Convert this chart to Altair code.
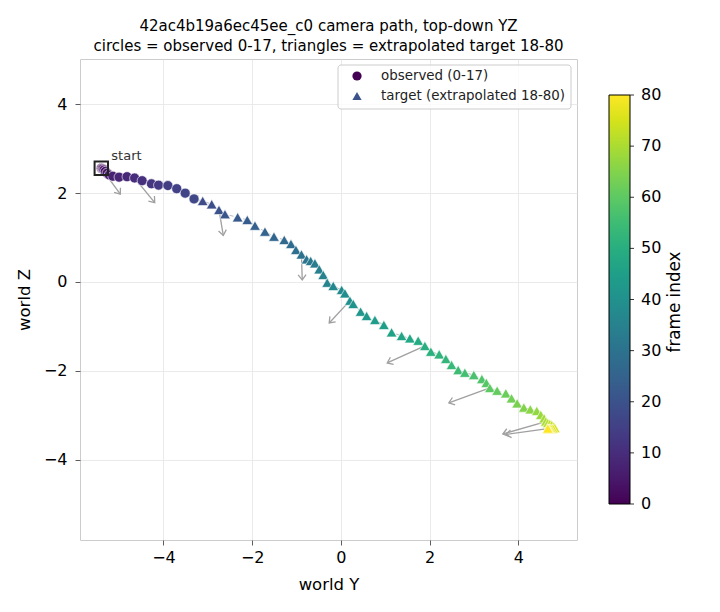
import math
import altair as alt
import pandas as pd

# observed camera positions, frames 0-17 (world Y, world Z)
obs_y = [-5.40, -5.38, -5.36, -5.34, -5.31, -5.27, -5.22, -5.14, -5.00, -4.82,
         -4.65, -4.48, -4.27, -4.11, -3.90, -3.70, -3.51, -3.31]
obs_z = [2.56, 2.55, 2.54, 2.52, 2.49, 2.45, 2.41, 2.38, 2.36, 2.37,
         2.34, 2.28, 2.21, 2.18, 2.17, 2.10, 2.00, 1.87]

# extrapolated target positions, frames 18-80
tgt_y = [-3.115, -2.912, -2.748, -2.613, -2.327, -2.110, -1.937, -1.712, -1.509, -1.277,
         -1.126, -1.014, -0.890, -0.773, -0.682, -0.586, -0.489, -0.399, -0.309, -0.173,
         0.016, 0.090, 0.203, 0.277, 0.444, 0.579, 0.766, 0.968, 1.142, 1.367,
         1.554, 1.741, 1.892, 2.027, 2.214, 2.365, 2.493, 2.642, 2.793, 2.995,
         3.176, 3.277, 3.356, 3.520, 3.716, 3.845, 3.971, 4.122, 4.268, 4.414,
         4.505, 4.579, 4.617, 4.662, 4.707, 4.752, 4.797, 4.820, 4.775, 4.730,
         4.696, 4.673, 4.662]
tgt_z = [1.824, 1.750, 1.622, 1.525, 1.457, 1.396, 1.268, 1.133, 1.020, 0.946,
         0.856, 0.721, 0.619, 0.511, 0.473, 0.421, 0.286, 0.158, -0.016, -0.090,
         -0.180, -0.255, -0.421, -0.495, -0.669, -0.766, -0.856, -0.968, -1.133, -1.216,
         -1.268, -1.322, -1.441, -1.570, -1.628, -1.734, -1.869, -1.982, -2.043, -2.095,
         -2.185, -2.273, -2.387, -2.448, -2.507, -2.619, -2.732, -2.827, -2.867, -2.905,
         -2.995, -3.070, -3.142, -3.176, -3.198, -3.221, -3.255, -3.288, -3.300, -3.300,
         -3.300, -3.300, -3.300]

# camera heading arrows: source frame and tip position
arrow_frame = [0, 10, 20, 30, 40, 50, 60, 70, 80]
arrow_tip_y = [-4.971, -4.196, -2.651, -0.872, -0.264, 1.043, 2.432, 3.649, 3.716]
arrow_tip_z = [1.975, 1.786, 1.047, 0.045, -0.923, -1.824, -2.725, -3.423, -3.435]

legend_labels = ["observed (0-17)", "target (extrapolated 18-80)"]
legend_colors = ["#440154", "#3b528b"]
legend_shapes = ["circle", "triangle-up"]
colorbar_ticks = [0, 10, 20, 30, 40, 50, 60, 70, 80]

FONT = "DejaVu Sans"
n_obs = len(obs_y)
obs = pd.DataFrame({"frame": list(range(n_obs)), "wy": obs_y, "wz": obs_z})
tgt = pd.DataFrame({"frame": list(range(n_obs, n_obs + len(tgt_y))), "wy": tgt_y, "wz": tgt_z})
path = pd.concat([obs, tgt], ignore_index=True)

pos = path.set_index("frame")
arrows = pd.DataFrame({
    "frame": arrow_frame,
    "wy": [pos.loc[f, "wy"] for f in arrow_frame],
    "wz": [pos.loc[f, "wz"] for f in arrow_frame],
    "ty": arrow_tip_y,
    "tz": arrow_tip_z,
})
arrows["ang"] = [
    math.degrees(math.atan2(ty - y, tz - z)) % 360
    for y, z, ty, tz in zip(arrows.wy, arrows.wz, arrows.ty, arrows.tz)
]
start = obs.iloc[[0]].assign(label="start")

xs = alt.Scale(domain=[-5.88, 5.32], nice=False, zero=False)
ys = alt.Scale(domain=[-5.81, 5.02], nice=False, zero=False)
minus = "replace(datum.label, '-', '\u2212')"
X = alt.X("wy:Q", scale=xs, title="world Y",
          axis=alt.Axis(values=[-4, -2, 0, 2, 4], labelExpr=minus))
Y = alt.Y("wz:Q", scale=ys, title="world Z",
          axis=alt.Axis(values=[-4, -2, 0, 2, 4], labelExpr=minus))

# colour bar geometry (pixels, relative to the plot area)
CB_X, CB_TOP, CB_LEN, CB_W = 529, 36, 409, 21

color = alt.Color(
    "frame:Q",
    scale=alt.Scale(scheme="viridis", domain=[0, 80]),
    legend=alt.Legend(
        orient="none", legendX=CB_X, legendY=CB_TOP, direction="vertical",
        gradientLength=CB_LEN, gradientThickness=CB_W,
        gradientStrokeColor="black", gradientStrokeWidth=1,
        values=colorbar_ticks, labelExpr="''", title=None,
    ),
)

line = alt.Chart(path).mark_line(color="#bbbbbb", strokeWidth=1, strokeDash=[4, 3]).encode(
    x=X, y=Y, order="frame:Q")

shafts = alt.Chart(arrows).mark_rule(color="#a0a0a0", strokeWidth=1.3).encode(
    x=X, y=Y, x2="ty:Q", y2="tz:Q")
tips = alt.Chart(arrows).mark_point(
    shape="M -0.75 1 L 0 0 L 0.75 1", filled=False, color="#a0a0a0",
    strokeWidth=1.3, size=110, opacity=1).encode(
    x=alt.X("ty:Q", scale=xs, title="world Y"), y=alt.Y("tz:Q", scale=ys, title="world Z"),
    angle=alt.Angle("ang:Q", scale=None))

circles = alt.Chart(obs).mark_point(
    shape="circle", filled=True, size=100, opacity=1, stroke="white", strokeWidth=0.6
).encode(x=X, y=Y, color=color)

tris = alt.Chart(tgt).mark_point(
    shape="triangle-up", filled=True, size=115, opacity=1, stroke="white", strokeWidth=0.6
).encode(x=X, y=Y, color=color)

start_box = alt.Chart(start).mark_point(
    shape="square", filled=False, size=180, color="#222222", strokeWidth=2, opacity=1
).encode(x=X, y=Y)
start_txt = alt.Chart(start).mark_text(
    text="start", align="left", baseline="middle", dx=10, dy=-12.5,
    font=FONT, fontSize=13, color="#333333"
).encode(x=X, y=Y)

# key box in the upper right of the plot
one = pd.DataFrame({"k": [0]})
deco = [
    alt.Chart(one).mark_rect(
        fill="white", fillOpacity=0.8, stroke="#cccccc", strokeWidth=1, cornerRadius=3
    ).encode(x=alt.value(258), x2=alt.value(491), y=alt.value(6), y2=alt.value(50))
]
for i, (lab, col, shp) in enumerate(zip(legend_labels, legend_colors, legend_shapes)):
    row_y = 17 + 20 * i
    deco.append(alt.Chart(one).mark_point(
        shape=shp, filled=True, size=85, color=col, opacity=1
    ).encode(x=alt.value(277), y=alt.value(row_y)))
    deco.append(alt.Chart(one).mark_text(
        text=lab, align="left", baseline="middle", font=FONT, fontSize=13.4, color="#222222"
    ).encode(x=alt.value(301), y=alt.value(row_y)))

# colour bar ticks and labels
for v in colorbar_ticks:
    ty = CB_TOP + CB_LEN * (1 - v / 80)
    deco.append(alt.Chart(one).mark_rule(color="black", strokeWidth=0.8).encode(
        x=alt.value(CB_X + CB_W), x2=alt.value(CB_X + CB_W + 4), y=alt.value(ty)))
    deco.append(alt.Chart(one).mark_text(
        text=str(v), align="left", baseline="middle", font=FONT, fontSize=16, color="black"
    ).encode(x=alt.value(CB_X + CB_W + 11), y=alt.value(ty)))

# colour bar caption, rotated beside the gradient
deco.append(alt.Chart(one).mark_text(
    text="frame index", angle=270, align="center", baseline="middle",
    font=FONT, fontSize=16.8, color="black"
).encode(x=alt.value(595), y=alt.value(243)))

chart = alt.layer(
    line, shafts, tips, circles, tris, start_box, start_txt, *deco
).properties(
    width=497, height=481,
    autosize=alt.AutoSizeParams(type="none"),
    padding={"left": 80, "top": 59, "right": 143, "bottom": 72},
    title=alt.TitleParams(
        text=["42ac4b19a6ec45ee_c0 camera path, top-down YZ",
              "circles = observed 0-17, triangles = extrapolated target 18-80"],
        font=FONT, fontSize=15, fontWeight="normal", color="black",
        anchor="middle", offset=5, lineHeight=20,
    ),
).configure_view(stroke="#cccccc", strokeWidth=1).configure_axis(
    grid=True, gridColor="#e5e5e5", gridWidth=0.8, domain=False,
    tickColor="#333333", tickSize=5, tickWidth=0.8,
    labelFont=FONT, labelFontSize=16, labelColor="black",
    titleFont=FONT, titleFontSize=16.5, titleFontWeight="normal", titleColor="black",
).configure_axisX(labelPadding=4, titlePadding=11).configure_axisY(labelPadding=8, titlePadding=11)

chart.save("out.html", embed_options={"renderer": "svg", "actions": False})
